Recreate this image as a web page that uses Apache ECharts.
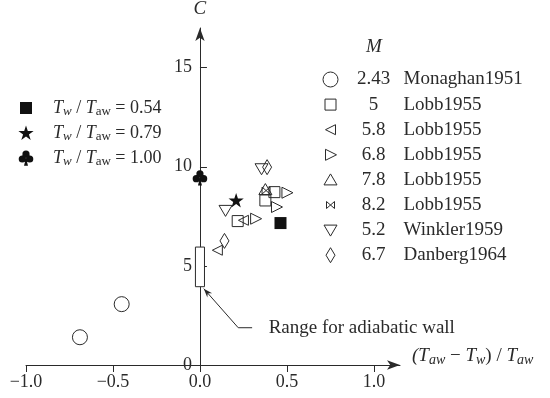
<!DOCTYPE html>
<html><head><meta charset="utf-8">
<script src="https://cdn.jsdelivr.net/npm/echarts@6/dist/echarts.min.js"></script>
<style>html,body{margin:0;padding:0;background:#fff}#c{width:550px;height:398px}</style>
</head><body><div id="c"></div>
<script>
// ---- data ----
const xTicks = [-1.0, -0.5, 0.0, 0.5, 1.0];
const yTicks = [0, 5, 10, 15];
const monaghan = [[-0.69, 1.40], [-0.45, 3.07]];
const lobb50 = [[0.217, 7.26], [0.376, 8.30], [0.428, 8.72]];
const lobb58 = [[0.10, 5.79], [0.25, 7.30]];
const lobb68 = [[0.32, 7.38], [0.44, 7.97], [0.50, 8.69]];
const lobb78 = [[0.376, 8.85]];
const lobb82 = [[0.38, 8.80]];
const winkler = [[0.147, 7.80], [0.354, 9.90]];
const danberg = [[0.141, 6.26], [0.386, 9.98]];
const tw054 = [[0.463, 7.16]];
const tw079 = [[0.208, 8.30]];
const tw100 = [[0.0, 9.45]];
const machNumbers = ['2.43', '5', '5.8', '6.8', '7.8', '8.2', '5.2', '6.7'];
const sources = ['Monaghan1951', 'Lobb1955', 'Lobb1955', 'Lobb1955', 'Lobb1955', 'Lobb1955', 'Winkler1959', 'Danberg1964'];
const twRatios = ['0.54', '0.79', '1.00'];
const adiabaticRange = [[-0.026, 0.026, 3.95, 5.95]];
const annotationText = 'Range for adiabatic wall';

// ---- symbols (16x16 box) ----
const B = 'M0,0 M16,16 ';
function circ(cx, cy, r) { return 'M' + cx + ',' + (cy - r) + ' A' + r + ',' + r + ' 0 1 1 ' + cx + ',' + (cy + r) + ' A' + r + ',' + r + ' 0 1 1 ' + cx + ',' + (cy - r) + ' Z '; }
const SYM = {
  circle: 'path://' + B + circ(8, 8, 7.5),
  square: 'path://' + B + 'M2.5,2.5 L13.5,2.5 L13.5,13.5 L2.5,13.5 Z',
  left: 'path://' + B + 'M13,3 L13,13 L3,8 Z',
  right: 'path://' + B + 'M3,2.5 L3,13.5 L14,8 Z',
  up: 'path://' + B + 'M8,2 L14.5,13 L1.5,13 Z',
  bowtie: 'path://' + B + 'M4,4.5 L12,11.5 L12,4.5 L4,11.5 Z',
  down: 'path://' + B + 'M1.5,3 L14.5,3 L8,14 Z',
  diamond: 'path://' + B + 'M8,0.5 L12.5,8 L8,15.5 L3.5,8 Z',
  fsquare: 'path://' + B + 'M2,2 L14,2 L14,14 L2,14 Z',
  star: 'path://' + B + 'M8,0.5 L9.8,6.02 L15.61,6.03 L10.91,9.45 L12.7,14.97 L8,11.56 L3.3,14.97 L5.09,9.45 L0.39,6.03 L6.2,6.02 Z',
  club: 'path://' + B + circ(8, 4.2, 3.6) + circ(4.3, 9, 3.6) + circ(11.7, 9, 3.6) + 'M8,8 L10,15.8 L6,15.8 Z'
};

const INK = '#2a2a2a';
const FONT = 'Liberation Serif';
const FS = 18;
const FS2 = 19;

const mSeries = [
  { key: 'm0', data: monaghan, sym: SYM.circle },
  { key: 'm1', data: lobb50, sym: SYM.square },
  { key: 'm2', data: lobb58, sym: SYM.left },
  { key: 'm3', data: lobb68, sym: SYM.right },
  { key: 'm4', data: lobb78, sym: SYM.up },
  { key: 'm5', data: lobb82, sym: SYM.bowtie },
  { key: 'm6', data: winkler, sym: SYM.down },
  { key: 'm7', data: danberg, sym: SYM.diamond }
];
const tSeries = [
  { key: 't0', data: tw054, sym: SYM.fsquare },
  { key: 't1', data: tw079, sym: SYM.star },
  { key: 't2', data: tw100, sym: SYM.club }
];

const series = [];
mSeries.forEach(function (s) {
  series.push({
    type: 'scatter', name: s.key, data: s.data, symbol: s.sym, symbolSize: 16, symbolKeepAspect: true,
    itemStyle: { color: 'rgba(255,255,255,0)', borderColor: INK, borderWidth: 1, opacity: 1 },
    emphasis: { disabled: true }, z: 3
  });
});
tSeries.forEach(function (s) {
  series.push({
    type: 'scatter', name: s.key, data: s.data, symbol: s.sym, symbolSize: 16, symbolKeepAspect: true,
    itemStyle: { color: '#111', borderWidth: 0, opacity: 1 },
    emphasis: { disabled: true }, z: 4
  });
});
series.push({
  type: 'custom', name: 'range', data: adiabaticRange, silent: true, z: 2,
  renderItem: function (params, api) {
    const p0 = api.coord([api.value(0), api.value(3)]);
    const p1 = api.coord([api.value(1), api.value(2)]);
    const tip = api.coord([0.022, 3.85]);
    const elbow = api.coord([0.22, 1.88]);
    const end = api.coord([0.30, 1.88]);
    const txt = api.coord([0.395, 1.86]);
    const ang = Math.atan2(elbow[1] - tip[1], elbow[0] - tip[0]);
    const L = 9, W = 3.2;
    const bx = tip[0] + L * Math.cos(ang), by = tip[1] + L * Math.sin(ang);
    const nx = -Math.sin(ang), ny = Math.cos(ang);
    return {
      type: 'group', children: [
        { type: 'rect', shape: { x: p0[0], y: p0[1], width: p1[0] - p0[0], height: p1[1] - p0[1] }, style: { fill: '#fff', stroke: INK, lineWidth: 1 } },
        { type: 'polyline', shape: { points: [tip, elbow, end] }, style: { fill: null, stroke: INK, lineWidth: 1 } },
        { type: 'polygon', shape: { points: [tip, [bx + nx * W, by + ny * W], [tip[0] + 6 * Math.cos(ang), tip[1] + 6 * Math.sin(ang)], [bx - nx * W, by - ny * W]] }, style: { fill: INK } },
        { type: 'text', style: { text: annotationText, x: txt[0], y: txt[1], align: 'left', verticalAlign: 'middle', font: FS2 + 'px "' + FONT + '"', fill: INK } }
      ]
    };
  }
});

const mLegendData = mSeries.map(function (s) { return { name: s.key, icon: s.sym }; });
const tLegendData = tSeries.map(function (s) { return { name: s.key, icon: s.sym }; });

const GRID_L = 26, GRID_W = 374, XMIN = -1, XMAX = 1.15;
const yOffset = -(0 - XMIN) / (XMAX - XMIN) * GRID_W;

const option = {
  animation: false,
  backgroundColor: '#fff',
  textStyle: { fontFamily: FONT },
  grid: { left: GRID_L, width: GRID_W, top: 28, bottom: 33, containLabel: false, outerBoundsMode: 'none' },
  xAxis: {
    type: 'value', min: XMIN, max: XMAX, interval: 0.5,
    axisLine: { onZero: true, lineStyle: { color: INK, width: 1 }, symbol: ['none', 'arrow'], symbolSize: [7, 13] },
    axisTick: { show: true, inside: false, length: 7, customValues: xTicks, lineStyle: { color: INK } },
    axisLabel: { customValues: xTicks, margin: 8, fontSize: FS, color: INK, fontFamily: FONT,
      formatter: function (v) { return v.toFixed(1).replace('-', '\u2212'); } },
    splitLine: { show: false },
    name: '{t|(T}{s|aw}{r| \u2212 }{t|T}{s|w}{r|)}{r| / }{t|T}{s|aw}',
    nameLocation: 'end', nameGap: 12,
    nameTextStyle: {
      color: INK, fontFamily: FONT, fontSize: FS2, padding: [0, 0, 18, 0],
      rich: {
        t: { fontStyle: 'italic', fontSize: FS2, fontFamily: FONT, color: INK, lineHeight: 22, verticalAlign: 'middle' },
        r: { fontSize: FS2, fontFamily: FONT, color: INK, lineHeight: 22, verticalAlign: 'middle' },
        s: { fontStyle: 'italic', fontSize: 14, fontFamily: FONT, color: INK, lineHeight: 22, verticalAlign: 'bottom' }
      }
    }
  },
  yAxis: {
    type: 'value', min: 0, max: 17, interval: 5, offset: yOffset,
    axisLine: { onZero: false, lineStyle: { color: INK, width: 1 }, symbol: ['none', 'arrow'], symbolSize: [7, 13] },
    axisTick: { show: true, inside: true, length: 7, customValues: yTicks, lineStyle: { color: INK } },
    axisLabel: { customValues: yTicks, margin: 8, fontSize: FS, color: INK, fontFamily: FONT },
    splitLine: { show: false },
    name: 'C', nameLocation: 'end', nameGap: 10,
    nameTextStyle: { fontStyle: 'italic', fontSize: 19, color: INK, fontFamily: FONT }
  },
  legend: [
    {
      data: tLegendData, orient: 'vertical', left: 18, top: 99, itemWidth: 16, itemHeight: 16, itemGap: 6,
      selectedMode: false,
      itemStyle: { borderWidth: 0 },
      formatter: function (name) { const i = tSeries.findIndex(function (s) { return s.key === name; }); return '{a0|T}{s|w}{b| / }{a|T}{u|aw}{b| = ' + twRatios[i] + '}'; },
      textStyle: {
        color: INK, fontFamily: FONT, fontSize: FS,
        rich: {
          a0: { fontStyle: 'italic', fontSize: FS, fontFamily: FONT, color: INK, lineHeight: 20, padding: [0, 0, 0, 14] },
          a: { fontStyle: 'italic', fontSize: FS, fontFamily: FONT, color: INK, lineHeight: 20 },
          b: { fontSize: FS, fontFamily: FONT, color: INK, lineHeight: 20 },
          s: { fontStyle: 'italic', fontSize: 13, fontFamily: FONT, color: INK, lineHeight: 20, verticalAlign: 'bottom' },
          u: { fontSize: 13, fontFamily: FONT, color: INK, lineHeight: 20, verticalAlign: 'bottom' }
        }
      },
      padding: [0, 0, 0, 0]
    },
    {
      data: mLegendData, orient: 'vertical', left: 322, top: 70, itemWidth: 16, itemHeight: 16, itemGap: 6.1,
      selectedMode: false,
      itemStyle: { borderWidth: 1, borderColor: INK, color: 'rgba(255,255,255,0)' },
      formatter: function (name) { const i = mSeries.findIndex(function (s) { return s.key === name; }); return '{m|' + machNumbers[i] + '}{n|' + sources[i] + '}'; },
      textStyle: {
        color: INK, fontFamily: FONT, fontSize: FS2,
        rich: {
          m: { width: 60, align: 'center', fontSize: FS2, fontFamily: FONT, color: INK, lineHeight: 20 },
          n: { fontSize: FS2, fontFamily: FONT, color: INK, lineHeight: 20 }
        }
      },
      padding: [0, 0, 0, 0]
    }
  ],
  graphic: [
    { type: 'text', left: 366, top: 37, style: { text: 'M', font: 'italic 19px "' + FONT + '"', fill: INK } }
  ],
  series: series
};
const chart = echarts.init(document.getElementById('c'), null, { renderer: 'canvas' });
chart.setOption(option);
</script>
</body></html>
